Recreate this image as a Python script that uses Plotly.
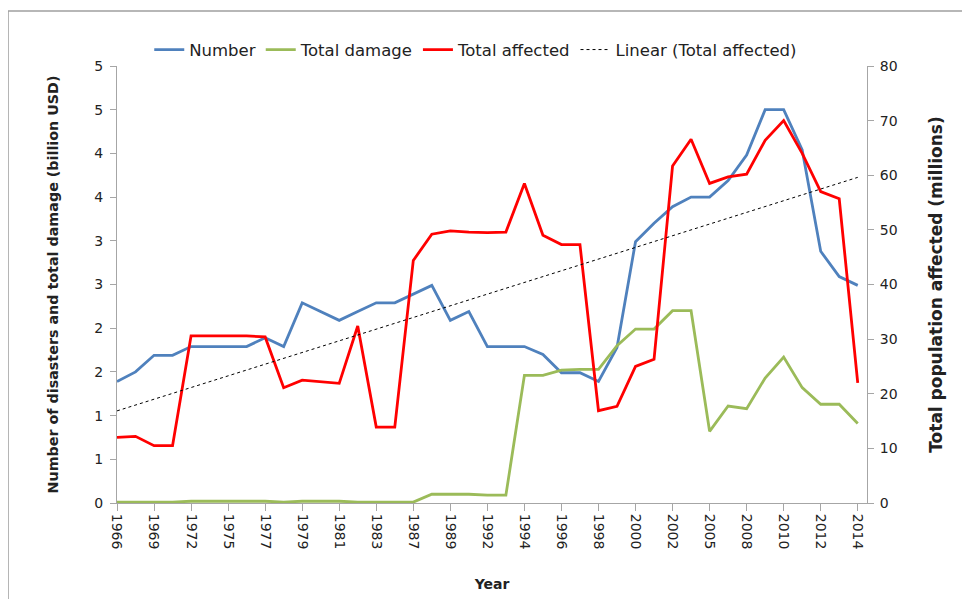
import numpy as np
import plotly.graph_objects as go

years = ["1966", "1967", "1969", "1970", "1972", "1973", "1975", "1976", "1977", "1978",
         "1979", "1980", "1981", "1982", "1983", "1984", "1987", "1988", "1989", "1990",
         "1992", "1993", "1994", "1995", "1996", "1997", "1998", "1999", "2000", "2001",
         "2002", "2004", "2005", "2006", "2008", "2009", "2010", "2011", "2012", "2013",
         "2014"]
shown_years = ["1966", "1969", "1972", "1975", "1977", "1979", "1981", "1983", "1987", "1989",
               "1992", "1994", "1996", "1998", "2000", "2002", "2005", "2008", "2010", "2012",
               "2014"]

number = [1.39, 1.50, 1.69, 1.69, 1.79, 1.79, 1.79, 1.79, 1.89, 1.79,
          2.29, 2.19, 2.09, 2.19, 2.29, 2.29, 2.39, 2.49, 2.09, 2.19,
          1.79, 1.79, 1.79, 1.70, 1.49, 1.49, 1.39, 1.78, 2.99, 3.20,
          3.39, 3.50, 3.50, 3.69, 3.98, 4.50, 4.50, 4.04, 2.88, 2.59,
          2.49]
damage = [0.01, 0.01, 0.01, 0.01, 0.02, 0.02, 0.02, 0.02, 0.02, 0.01,
          0.02, 0.02, 0.02, 0.01, 0.01, 0.01, 0.01, 0.10, 0.10, 0.10,
          0.09, 0.09, 1.46, 1.46, 1.52, 1.53, 1.53, 1.80, 1.99, 1.99,
          2.20, 2.20, 0.82, 1.11, 1.08, 1.43, 1.67, 1.32, 1.13, 1.13,
          0.91]
affected = [12.0, 12.2, 10.5, 10.5, 30.6, 30.6, 30.6, 30.6, 30.4, 21.1,
            22.5, 22.2, 21.9, 32.4, 13.9, 13.9, 44.4, 49.2, 49.8, 49.6,
            49.5, 49.6, 58.5, 49.0, 47.3, 47.3, 16.9, 17.7, 25.0, 26.3,
            61.7, 66.6, 58.5, 59.7, 60.2, 66.4, 70.0, 64.0, 57.0, 55.7,
            22.0]

left_tickvals = [0, 0.5, 1, 1.5, 2, 2.5, 3, 3.5, 4, 4.5, 5]
left_ticktext = ["0", "1", "1", "2", "2", "3", "3", "4", "4", "5", "5"]
right_tickvals = [0, 10, 20, 30, 40, 50, 60, 70, 80]

idx = np.arange(len(years))
slope, intercept = np.polyfit(idx, affected, 1)
trend = intercept + slope * idx

FONT = "'DejaVu Sans', sans-serif"
AX = "#a6a6a6"

fig = go.Figure()
fig.add_trace(go.Scatter(x=years, y=number, name="Number", mode="lines",
                         line=dict(color="#4F81BD", width=2.8)))
fig.add_trace(go.Scatter(x=years, y=damage, name="Total damage", mode="lines",
                         line=dict(color="#9BBB59", width=2.8)))
fig.add_trace(go.Scatter(x=years, y=affected, name="Total affected", mode="lines",
                         line=dict(color="#FF0000", width=2.8), yaxis="y2"))
fig.add_trace(go.Scatter(x=years, y=trend, name="Linear (Total affected)", mode="lines",
                         line=dict(color="#000000", width=1, dash="dot"), yaxis="y2"))

fig.update_layout(
    width=970, height=599,
    margin=dict(l=109, r=111, t=58, b=104),
    paper_bgcolor="white", plot_bgcolor="white",
    font=dict(family=FONT, size=14, color="#222222"),
    showlegend=True,
    legend=dict(orientation="h", x=0.043, y=1.037, xanchor="left", yanchor="middle",
                font=dict(size=16.5, color="#222222"), bgcolor="rgba(0,0,0,0)",
                itemwidth=30, tracegroupgap=0),
    xaxis=dict(type="category", range=[0, 40.5],
               tickmode="array", tickvals=shown_years, ticktext=shown_years,
               tickangle=90, ticks="outside", ticklen=7, tickcolor=AX,
               showline=True, linecolor=AX, linewidth=1, showgrid=False, zeroline=False,
               tickfont=dict(size=14),
               title=dict(text="<b>Year</b>", font=dict(size=14), standoff=30)),
    yaxis=dict(range=[0, 5], tickmode="array", tickvals=left_tickvals, ticktext=left_ticktext,
               ticks="outside", ticklen=6, tickcolor=AX, ticklabelstandoff=4,
               showline=True, linecolor=AX, linewidth=1, showgrid=False, zeroline=False,
               tickfont=dict(size=14),
               title=dict(text="<b>Number of disasters and total damage (billion USD)</b>",
                          font=dict(size=14.3), standoff=32)),
    yaxis2=dict(range=[0, 80], overlaying="y", side="right",
                tickmode="array", tickvals=right_tickvals,
                ticks="outside", ticklen=6, tickcolor=AX, ticklabelstandoff=3,
                showline=True, linecolor=AX, linewidth=1, showgrid=False, zeroline=False,
                tickfont=dict(size=14),
                title=dict(text="<b>Total population affected (millions)</b>",
                           font=dict(size=17), standoff=33)),
    shapes=[dict(type="rect", xref="paper", yref="paper",
                 x0=-0.1453, x1=1.16, y0=-0.25, y1=1.1259,
                 line=dict(color="#a0a0a0", width=1.5), fillcolor="rgba(0,0,0,0)",
                 layer="below")],
)

fig.write_html("out.html")
